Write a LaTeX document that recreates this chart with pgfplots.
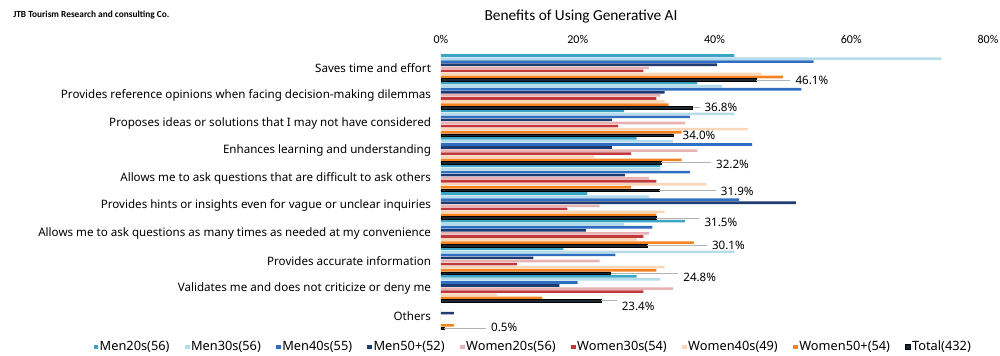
\documentclass[border=0pt]{standalone}
\usepackage{fontspec}
\setmainfont{Noto Sans}
\newfontfamily\calibri{Carlito}
\usepackage{pgfplots}
\usepackage{pgfplotstable}
\pgfplotsset{compat=1.18}

\definecolor{cMa}{HTML}{3AA6C4}
\definecolor{cMb}{HTML}{B4DCEA}
\definecolor{cMc}{HTML}{2F6EC0}
\definecolor{cMd}{HTML}{1E3C72}
\definecolor{cWa}{HTML}{E8B2B3}
\definecolor{cWb}{HTML}{C2393C}
\definecolor{cWc}{HTML}{FCD6B8}
\definecolor{cWd}{HTML}{F5821F}
\definecolor{cTot}{HTML}{1C2733}

\pgfplotstableread{
y m20 m30 m40 m50 w20 w30 w40 w50 tot dx le dy
0 42.9 73.2 54.5 40.4 30.4 29.6 46.9 50.0 46.1 5.6 5.0 0
1 37.5 41.1 52.7 32.7 32.1 31.5 32.7 33.3 36.8 1.6 1.1 0
2 26.8 42.9 36.4 25.0 35.7 25.9 44.9 35.2 34.0 1.2 0 0
3 28.6 33.9 45.5 25.0 37.5 27.8 22.4 35.2 32.2 7.9 7.3 -1
4 32.1 32.1 36.4 26.9 30.4 31.5 38.8 27.8 31.9 8.9 8.3 -1
5 21.4 30.4 43.6 51.9 23.2 18.5 32.7 31.5 31.5 6.9 6.3 -3
6 35.7 26.8 30.9 21.2 30.4 29.6 28.6 37.0 30.1 9.4 8.8 0
7 17.9 42.9 25.5 13.5 23.2 11.1 32.7 31.5 24.8 10.5 9.9 -3
8 28.6 32.1 20.0 17.3 33.9 29.6 8.2 14.8 23.4 2.9 2.4 -4
9 0 0 0 1.9 0 0 0 1.9 0.5 6.7 6.1 1
}\data

\begin{document}
\begin{tikzpicture}
\useasboundingbox (-330.75pt,40.5pt) rectangle (419.25pt,-226.5pt);
\begin{axis}[
  at={(0pt,0pt)}, anchor=north west,
  scale only axis, width=410.25pt, height=207pt,
  xbar, bar width=1.95pt,
  xmin=0, xmax=80, ymin=-0.5, ymax=9.5, y dir=reverse,
  enlargelimits=false,
  xtick={0,20,40,60,80},
  xticklabel pos=upper,
  xticklabel={\pgfmathprintnumber{\tick}\%},
  /pgf/number format/assume math mode=true,
  xticklabel style={font=\calibri\fontsize{9}{10}\selectfont, yshift=4pt},
  ytick={0,...,9},
  yticklabels={{Saves time and effort},
    {Provides reference opinions when facing decision-making dilemmas},
    {Proposes ideas or solutions that I may not have considered},
    {Enhances learning and understanding},
    {Allows me to ask questions that are difficult to ask others},
    {Provides hints or insights even for vague or unclear inquiries},
    {Allows me to ask questions as many times as needed at my convenience},
    {Provides accurate information},
    {Validates me and does not criticize or deny me},
    {Others}},
  yticklabel style={font=\fontsize{8.7}{10}\selectfont, xshift=-4pt},
  axis line style={draw=none},
  major tick length=0pt,
  clip=false,
  legend columns=9,
  legend style={at={(axis description cs:0.168,-0.0616)}, anchor=center,
    draw=none, fill=none, font=\fontsize{9.6}{11}\selectfont,
    /tikz/every even column/.append style={column sep=10.5pt},
    nodes={inner sep=1pt}},
  legend image code/.code={\path[#1] (0pt,-1.8pt) rectangle (3.6pt,1.8pt);},
]
\addplot[fill=cMa, draw=none, bar shift=9.2pt] table[x=m20, y=y]{\data};
\addplot[fill=cMb, draw=none, bar shift=6.9pt] table[x=m30, y=y]{\data};
\addplot[fill=cMc, draw=none, bar shift=4.6pt] table[x=m40, y=y]{\data};
\addplot[fill=cMd, draw=none, bar shift=2.3pt] table[x=m50, y=y]{\data};
\addplot[fill=cWa, draw=none, bar shift=0pt] table[x=w20, y=y]{\data};
\addplot[fill=cWb, draw=none, bar shift=-2.3pt] table[x=w30, y=y]{\data};
\addplot[fill=cWc, draw=none, bar shift=-4.6pt] table[x=w40, y=y]{\data};
\addplot[fill=cWd, draw=none, bar shift=-6.9pt] table[x=w50, y=y]{\data};
\addplot[fill=cTot, draw=black, line width=0.45pt, bar shift=-9.2pt,
  point meta=x,
  visualization depends on={\thisrow{dx} \as \dx},
  visualization depends on={\thisrow{dy} \as \dy},
  nodes near coords={\pgfmathprintnumber[fixed, fixed zerofill, precision=1]{\pgfplotspointmeta}\%},
  nodes near coords style={anchor=west, font=\fontsize{8.7}{10}\selectfont, text=black,
    xshift={\dx*5.128pt-2.8pt}, yshift={\dy*1pt}},
  error bars/x dir=plus, error bars/x explicit,
  error bars/error mark=none,
  error bars/error bar style={draw=gray!60, line width=0.6pt},
] table[x=tot, y=y, x error=le]{\data};
\legend{Men20s(56), Men30s(56), Men40s(55), Men50+(52), Women20s(56), Women30s(54), Women40s(49), Women50+(54), Total(432)}
\end{axis}
\node[anchor=center, font=\calibri\fontsize{11.5}{13}\selectfont] at (105pt,27.75pt) {Benefits of Using Generative AI};
\node[anchor=west, font=\calibri\bfseries\fontsize{7}{8}\selectfont, inner sep=0pt] at (-321pt,29.25pt) {JTB Tourism Research and consulting Co.};
\end{tikzpicture}
\end{document}
